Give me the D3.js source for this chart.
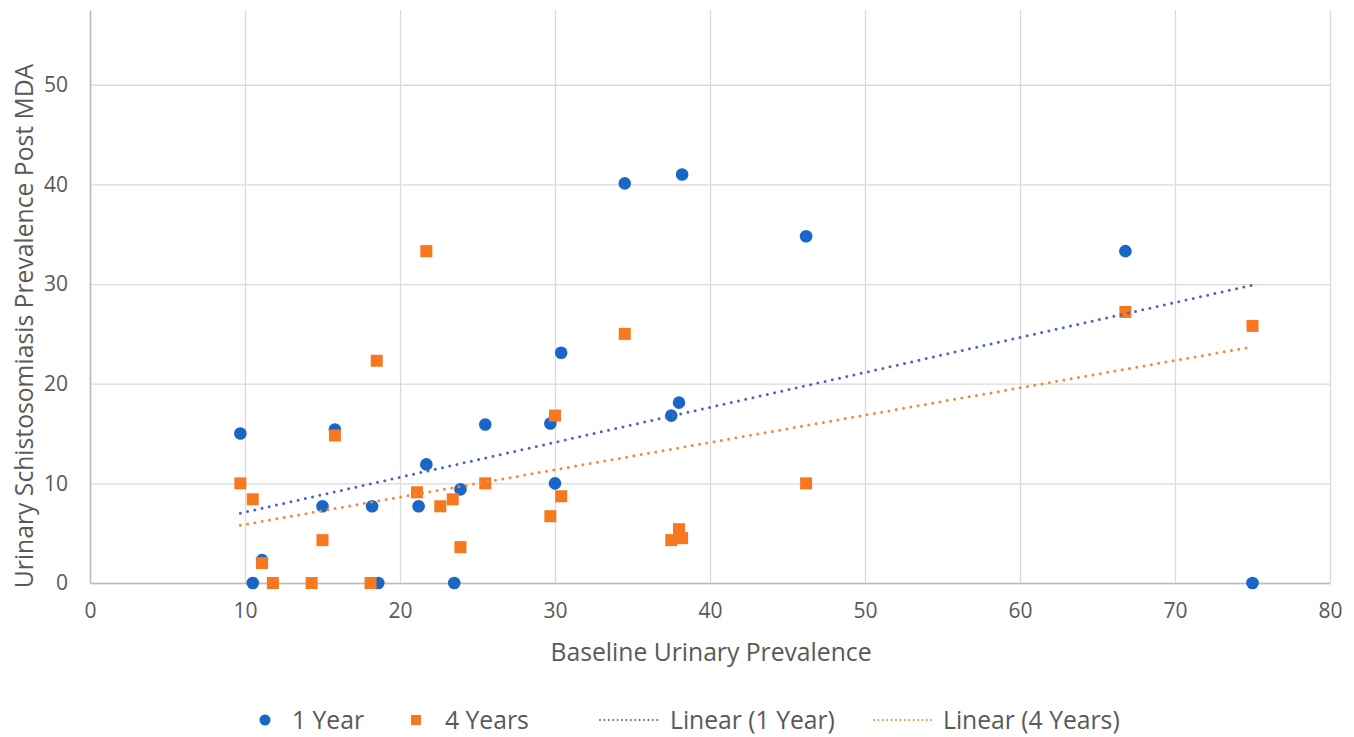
<!DOCTYPE html>
<html>
<head>
<meta charset="utf-8">
<script src="https://cdn.jsdelivr.net/npm/d3@7"></script>
<style>
  body { margin: 0; background: #fff; }
  text { font-family: "Open Sans", sans-serif; fill: #595959; }
</style>
</head>
<body>
<script>
// baseline prevalence (x) and post-MDA prevalence (y) for each series
const year1X = [9.7, 10.5, 11.1, 15.0, 15.8, 18.2, 18.6, 21.2, 21.7, 23.5, 23.9, 25.5, 29.7, 30.0, 30.4, 34.5, 37.5, 38.0, 38.2, 46.2, 66.8, 75.0];
const year1Y = [15.0, 0, 2.3, 7.7, 15.4, 7.7, 0, 7.7, 11.9, 0, 9.4, 15.9, 16.0, 10.0, 23.1, 40.1, 16.8, 18.1, 41.0, 34.8, 33.3, 0];

const year4X = [9.7, 10.5, 11.1, 11.8, 14.3, 15.0, 15.8, 18.1, 18.5, 21.1, 21.7, 22.6, 23.4, 23.9, 25.5, 29.7, 30.0, 30.4, 34.5, 37.5, 38.0, 38.2, 46.2, 66.8, 75.0];
const year4Y = [10.0, 8.4, 2.0, 0, 0, 4.3, 14.8, 0, 22.3, 9.1, 33.3, 7.7, 8.4, 3.6, 10.0, 6.7, 16.8, 8.7, 25.0, 4.3, 5.4, 4.5, 10.0, 27.2, 25.8];

// linear trendline ends as drawn in the chart
const trendX = [9.7, 75.0];
const trend1Y = [7.0, 29.9];
const trend4Y = [5.8, 23.7];

const xTicks = [0, 10, 20, 30, 40, 50, 60, 70, 80];
const yTicks = [0, 10, 20, 30, 40, 50];

const legendItems = ["1 Year", "4 Years", "Linear (1 Year)", "Linear (4 Years)"];

const blue = "#1a66c6";
const orange = "#f7781e";

const outerWidth = 1354;
const outerHeight = 737;
const margin = {top: 10, left: 90, bottom: 154, right: 24};
const width = outerWidth - margin.left - margin.right;
const height = outerHeight - margin.top - margin.bottom;

const root = d3.select('body')
  .append('svg')
  .attr('width', outerWidth)
  .attr('height', outerHeight);

const svg = root.append('g')
  .attr('transform', `translate(${margin.left}, ${margin.top})`);

const xScale = d3.scaleLinear().domain([0, 80]).range([0, width]);
const yScale = d3.scaleLinear().domain([0, 57.5]).range([height, 0]);

// gridlines
const xGrid = d3.axisBottom(xScale).tickValues(xTicks).tickSize(-height).tickFormat("");
const yGrid = d3.axisLeft(yScale).tickValues(yTicks).tickSize(-width).tickFormat("");

svg.append("g")
  .attr("class", "grid")
  .attr("transform", `translate(0, ${height})`)
  .call(xGrid)
  .call(g => g.select(".domain").remove())
  .selectAll("line").attr("stroke", "#dadada").attr("stroke-width", 1.3);

svg.append("g")
  .attr("class", "grid")
  .call(yGrid)
  .call(g => g.select(".domain").remove())
  .selectAll("line").attr("stroke", "#dadada").attr("stroke-width", 1.3);

// axes
const xAxis = d3.axisBottom(xScale).tickValues(xTicks).tickSize(0).tickPadding(20);
const yAxis = d3.axisLeft(yScale).tickValues(yTicks).tickSize(0).tickPadding(22);

svg.append("g")
  .attr("class", "axis x-axis")
  .attr("transform", `translate(0, ${height})`)
  .call(xAxis)
  .call(g => g.select(".domain").attr("stroke", "#bcbcbc").attr("stroke-width", 1.6))
  .selectAll("text").attr("font-size", 21).attr("fill", "#595959");

svg.append("g")
  .attr("class", "axis y-axis")
  .call(yAxis)
  .call(g => g.select(".domain").attr("stroke", "#bcbcbc").attr("stroke-width", 1.6))
  .selectAll("text").attr("font-size", 21).attr("fill", "#595959");

// points: 1 year first, 4 years drawn on top
svg.append("g")
  .selectAll("circle")
  .data(d3.zip(year1X, year1Y))
  .enter()
  .append("circle")
  .attr("cx", d => xScale(d[0]))
  .attr("cy", d => yScale(d[1]))
  .attr("r", 6.3)
  .attr("fill", blue);

const sq = 12;
svg.append("g")
  .selectAll("rect")
  .data(d3.zip(year4X, year4Y))
  .enter()
  .append("rect")
  .attr("x", d => xScale(d[0]) - sq / 2)
  .attr("y", d => yScale(d[1]) - sq / 2)
  .attr("width", sq)
  .attr("height", sq)
  .attr("fill", orange);

// trendlines
const line = d3.line().x(d => xScale(d[0])).y(d => yScale(d[1]));

svg.append("path")
  .datum(d3.zip(trendX, trend1Y))
  .attr("d", line)
  .attr("fill", "none")
  .attr("stroke", "#4a66bd")
  .attr("stroke-width", 3)
  .attr("stroke-linecap", "round")
  .attr("stroke-dasharray", "0 7.4");

svg.append("path")
  .datum(d3.zip(trendX, trend4Y))
  .attr("d", line)
  .attr("fill", "none")
  .attr("stroke", "#f28a3c")
  .attr("stroke-width", 3)
  .attr("stroke-linecap", "round")
  .attr("stroke-dasharray", "0 7.4");

// axis titles
root.append("text")
  .attr("x", 711)
  .attr("y", 661)
  .attr("text-anchor", "middle")
  .attr("font-size", 24.7)
  .text("Baseline Urinary Prevalence");

root.append("text")
  .attr("transform", `translate(33, 326) rotate(-90)`)
  .attr("text-anchor", "middle")
  .attr("font-size", 24.7)
  .text("Urinary Schistosomiasis Prevalence Post MDA");

// legend
const legend = root.append("g").attr("transform", "translate(0, 720)");
const legendX = [265, 416, 600, 874];
const textX = [292, 445, 670, 943];

legend.append("circle").attr("cx", legendX[0]).attr("cy", 0).attr("r", 5.5).attr("fill", blue);
legend.append("rect").attr("x", legendX[1] - 5).attr("y", -5).attr("width", 10).attr("height", 10).attr("fill", orange);
legend.append("line").attr("x1", legendX[2]).attr("x2", legendX[2] + 61).attr("y1", 0).attr("y2", 0)
  .attr("stroke", "#4a66bd").attr("stroke-width", 2).attr("stroke-linecap", "round").attr("stroke-dasharray", "0 4.4");
legend.append("line").attr("x1", legendX[3]).attr("x2", legendX[3] + 61).attr("y1", 0).attr("y2", 0)
  .attr("stroke", "#f28a3c").attr("stroke-width", 2).attr("stroke-linecap", "round").attr("stroke-dasharray", "0 4.4");

legend.selectAll(".ltext")
  .data(legendItems)
  .enter()
  .append("text")
  .attr("class", "ltext")
  .attr("x", (d, i) => textX[i])
  .attr("y", 0)
  .attr("dy", "0.35em")
  .attr("font-size", 24.7)
  .text(d => d);
</script>
</body>
</html>
